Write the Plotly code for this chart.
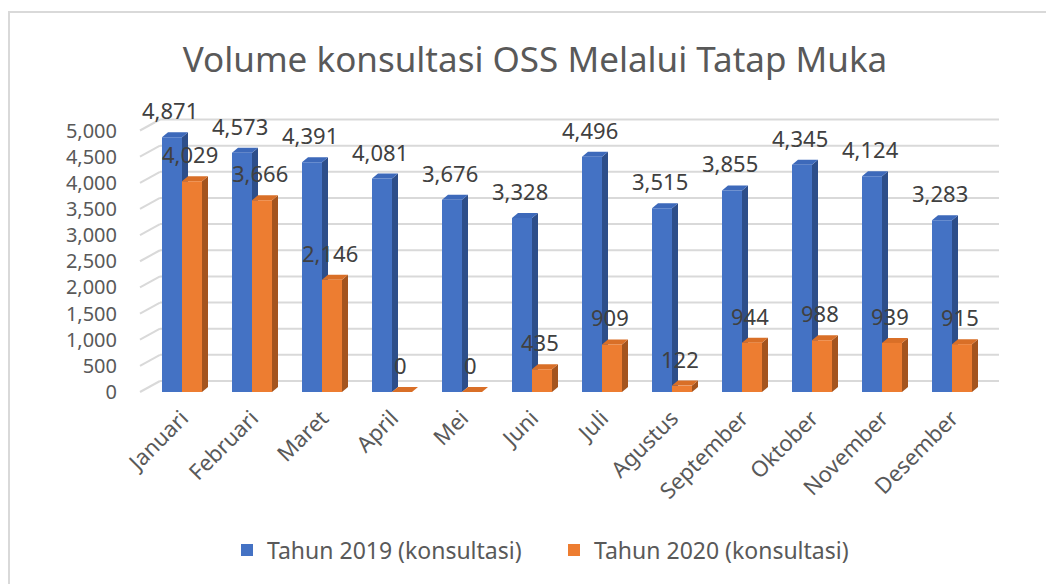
import plotly.graph_objects as go

# ---- data ----
months = ["Januari", "Februari", "Maret", "April", "Mei", "Juni", "Juli",
          "Agustus", "September", "Oktober", "November", "Desember"]
tahun_2019 = [4871, 4573, 4391, 4081, 3676, 3328, 4496, 3515, 3855, 4345, 4124, 3283]
tahun_2020 = [4029, 3666, 2146, 0, 0, 435, 909, 122, 944, 988, 939, 915]
y_ticks = [0, 500, 1000, 1500, 2000, 2500, 3000, 3500, 4000, 4500, 5000]
series_names = ["Tahun 2019 (konsultasi)", "Tahun 2020 (konsultasi)"]

# ---- layout geometry (pixels, page offset compensated) ----
W, H = 1054, 584
OFF = 8                 # body margin of the html page
P = lambda v: v - OFF   # screen px -> figure px

ML, MR, MT, MB = P(130), W - P(1005), P(95), H - P(400)
CAT_PX = 70.0
X0_PX = P(182.0)
Y0_PX = P(392.0)
UNIT_PX = 0.0523

x_range = [(ML - X0_PX) / CAT_PX, (W - MR - X0_PX) / CAT_PX]
y_range = [(Y0_PX - (H - MB)) / UNIT_PX, (Y0_PX - MT) / UNIT_PX]

bw = 20 / CAT_PX
ddx = 6 / CAT_PX
ddy = 5 / UNIT_PX
gdx_front = (P(140) - X0_PX) / CAT_PX
gdx_back = (P(160) - X0_PX) / CAT_PX
gx_end = (P(999) - X0_PX) / CAT_PX
gdy = 11 / UNIT_PX

FONT = "Noto Sans"
GRAY = "#595959"

blue = dict(front="#4472C4", side="#2D4E8A", top="#3D69BA")
orange = dict(front="#ED7D31", side="#A4541E", top="#D96F27")

xs = list(range(len(months)))
fig = go.Figure()
fig.add_trace(go.Bar(x=xs, y=tahun_2019, name=series_names[0], width=bw, offset=-bw,
                     marker=dict(color=blue["front"], line=dict(width=0)),
                     legend="legend"))
fig.add_trace(go.Bar(x=xs, y=tahun_2020, name=series_names[1], width=bw, offset=0,
                     marker=dict(color=orange["front"], line=dict(width=0)),
                     legend="legend2"))

shapes = []
for t in y_ticks:
    shapes.append(dict(type="line", xref="x", yref="y", x0=gdx_front, y0=t,
                       x1=gdx_back, y1=t + gdy, line=dict(color="#D9D9D9", width=2),
                       layer="below"))
    shapes.append(dict(type="line", xref="x", yref="y", x0=gdx_back, y0=t + gdy,
                       x1=gx_end, y1=t + gdy, line=dict(color="#D9D9D9", width=2),
                       layer="below"))


def faces(left, v, col):
    right = left + bw
    side = (f"M{right},0 L{right},{v} L{right + ddx},{v + ddy} "
            f"L{right + ddx},{ddy} Z")
    top = (f"M{left},{v} L{right},{v} L{right + ddx},{v + ddy} "
           f"L{left + ddx},{v + ddy} Z")
    return [dict(type="path", xref="x", yref="y", path=side, fillcolor=col["side"],
                 line=dict(width=0), layer="between"),
            dict(type="path", xref="x", yref="y", path=top, fillcolor=col["top"],
                 line=dict(width=0), layer="between")]


for i in xs:
    shapes += faces(i - bw, tahun_2019[i], blue)
for i in xs:
    shapes += faces(i, tahun_2020[i], orange)

px2paper_x = lambda px: (px - ML) / (W - ML - MR)
px2paper_y = lambda py: (H - MB - py) / (H - MT - MB)
shapes.append(dict(type="rect", xref="paper", yref="paper",
                   x0=px2paper_x(P(9)), y0=px2paper_y(H + 20),
                   x1=px2paper_x(W + 20), y1=px2paper_y(P(12)),
                   line=dict(color="#D9D9D9", width=2), fillcolor="rgba(0,0,0,0)",
                   layer="below"))

annotations = []
for i in xs:
    annotations.append(dict(x=i - bw / 2, y=tahun_2019[i], xref="x", yref="y",
                            text=f"{tahun_2019[i]:,}", showarrow=False, yshift=27,
                            xshift=-2, yanchor="middle",
                            font=dict(family=FONT, size=22, color="#404040")))
    annotations.append(dict(x=i + bw / 2, y=tahun_2020[i], xref="x", yref="y",
                            text=f"{tahun_2020[i]:,}", showarrow=False, yshift=27,
                            xshift=-2, yanchor="middle",
                            font=dict(family=FONT, size=22, color="#404040")))

legend_common = dict(orientation="h", xref="container", xanchor="left",
                     yref="container", yanchor="middle", y=1 - P(550) / H,
                     font=dict(family=FONT, size=23, color=GRAY),
                     itemwidth=30, bgcolor="rgba(0,0,0,0)", borderwidth=0)

fig.update_layout(
    width=W, height=H,
    margin=dict(l=ML, r=MR, t=MT, b=MB, pad=0),
    paper_bgcolor="white", plot_bgcolor="white",
    barmode="overlay",
    title=dict(text="Volume konsultasi OSS Melalui Tatap Muka",
               x=P(535) / W, xref="container", xanchor="center",
               y=1 - P(60) / H, yref="container", yanchor="middle",
               font=dict(family=FONT, size=35, color=GRAY)),
    xaxis=dict(range=x_range, tickvals=xs, ticktext=months, tickangle=-45,
               showgrid=False, zeroline=False, showline=False, ticks="",
               tickfont=dict(family=FONT, size=22, color=GRAY), fixedrange=True),
    yaxis=dict(range=y_range, tickvals=y_ticks, tickformat=",d",
               showgrid=False, zeroline=False, showline=False, ticks="",
               ticklabelstandoff=12,
               tickfont=dict(family=FONT, size=20, color=GRAY), fixedrange=True),
    legend=dict(legend_common, x=P(241 - 14) / W),
    legend2=dict(legend_common, x=P(568 - 14) / W),
    shapes=shapes,
    annotations=annotations,
    showlegend=True,
)

fig.write_html("out.html")
